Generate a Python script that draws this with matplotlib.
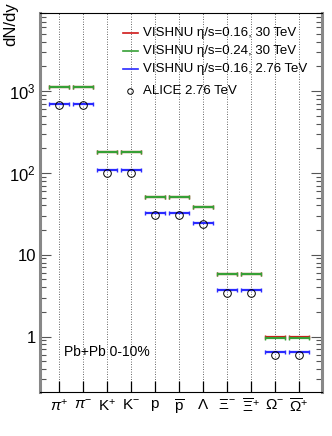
import matplotlib
matplotlib.use("Agg")
import matplotlib.pyplot as plt
from matplotlib.ticker import FixedLocator, LogLocator, NullFormatter

plt.rcParams['font.family'] = ['Liberation Sans', 'DejaVu Sans']
plt.rcParams['mathtext.fontset'] = 'custom'
plt.rcParams['mathtext.rm'] = 'Liberation Sans'
plt.rcParams['mathtext.it'] = 'Liberation Sans:italic'

particles = [r'$\pi^{+}$', r'$\pi^{-}$', r'$\mathrm{K}^{+}$', r'$\mathrm{K}^{-}$', r'$\mathrm{p}$',
             r'$\overline{\mathrm{p}}$', r'$\Lambda$', r'$\Xi^{-}$', r'$\overline{\Xi}^{+}$',
             r'$\Omega^{-}$', r'$\overline{\Omega}^{+}$']
vishnu016_30 = [1120, 1120, 182, 182, 51, 51, 38.5, 5.88, 5.88, 0.99, 0.99]
vishnu024_30 = [1120, 1120, 182, 182, 51, 51, 38.5, 5.8, 5.8, 0.955, 0.955]
vishnu016_276 = [694, 694, 110, 110, 32.8, 32.8, 24.1, 3.7, 3.7, 0.65, 0.65]
alice_276 = [670, 670, 100, 100, 30.5, 30.5, 24.0, 3.4, 3.4, 0.6, 0.6]

labels = ['VISHNU \u03b7/s=0.16, 30 TeV', 'VISHNU \u03b7/s=0.24, 30 TeV',
          'VISHNU \u03b7/s=0.16, 2.76 TeV', 'ALICE 2.76 TeV']
colors = ['#d01818', '#36a036', '#2a2aff']

W, H = 332, 436
L, R, T, B = 40, 322, 13, 392
fig = plt.figure(figsize=(W / 100, H / 100), dpi=100)
ax = fig.add_axes([L / W, (H - B) / H, (R - L) / W, (B - T) / H])

x = list(range(len(particles)))
hw = 0.42
for i in x:
    ax.axvline(i, color='#333333', ls=(0, (1, 2)), lw=0.6, zorder=0)

def bars(vals, color, z):
    ax.errorbar(x, vals, xerr=hw, fmt='none', ecolor=color, elinewidth=1.6,
                capsize=1.5, capthick=1.0, zorder=z)

bars(vishnu016_30, colors[0], 2)
bars(vishnu024_30, colors[1], 2.5)
bars(vishnu016_276, colors[2], 3)
ax.plot(x, alice_276, ls='none', marker='o', mfc='none', mec='black', ms=5.5, mew=0.7, zorder=4)

ax.set_yscale('log')
ax.set_ylim(0.21, 9000)
ax.set_xlim(-0.79, 10.96)
ax.set_xticks(x)
ax.set_xticklabels(particles, fontsize=11)
ax.tick_params(axis='x', direction='in', length=8, width=0.9, color='black', pad=4)
ax.yaxis.set_major_locator(FixedLocator([1, 10, 100, 1000]))
ax.set_yticklabels(['1', '10', r'$10^{2}$', r'$10^{3}$'], fontsize=12)
ax.yaxis.set_minor_locator(LogLocator(base=10, subs=range(2, 10)))
ax.yaxis.set_minor_formatter(NullFormatter())
ax.tick_params(axis='y', which='major', direction='in', length=8, width=0.8,
               left=True, right=True, color='#555555', pad=3)
ax.tick_params(axis='y', which='minor', direction='in', length=4, width=0.8,
               left=True, right=True, color='#555555')
for side in ['left', 'right']:
    ax.spines[side].set_color('#888888')
    ax.spines[side].set_linewidth(2.2)
for side in ['top', 'bottom']:
    ax.spines[side].set_color('black')
    ax.spines[side].set_linewidth(0.8)

fig.text(3 / W, 1 - 2 / H, 'dN/dy', rotation=90, ha='left', va='top', fontsize=12)

def axpt(px, py):
    return (px - L) / (R - L), (B - py) / (B - T)

ax.text(*axpt(64, 352), 'Pb+Pb 0-10%', transform=ax.transAxes, fontsize=10, ha='left', va='center')

rows = [33, 51, 69, 91]
for k in range(3):
    x0, yy = axpt(123, rows[k])
    x1, _ = axpt(138, rows[k])
    ax.plot([x0, x1], [yy, yy], color=colors[k], lw=1.2, transform=ax.transAxes, clip_on=False)
mx, my = axpt(130, rows[3])
ax.plot([mx], [my], ls='none', marker='o', mfc='none', mec='black', ms=4, mew=0.7,
        transform=ax.transAxes, clip_on=False)
for k in range(4):
    tx, ty = axpt(143, rows[k])
    ax.text(tx, ty, labels[k], transform=ax.transAxes, fontsize=9.5, ha='left', va='center')

fig.savefig('out.png', dpi=100)
